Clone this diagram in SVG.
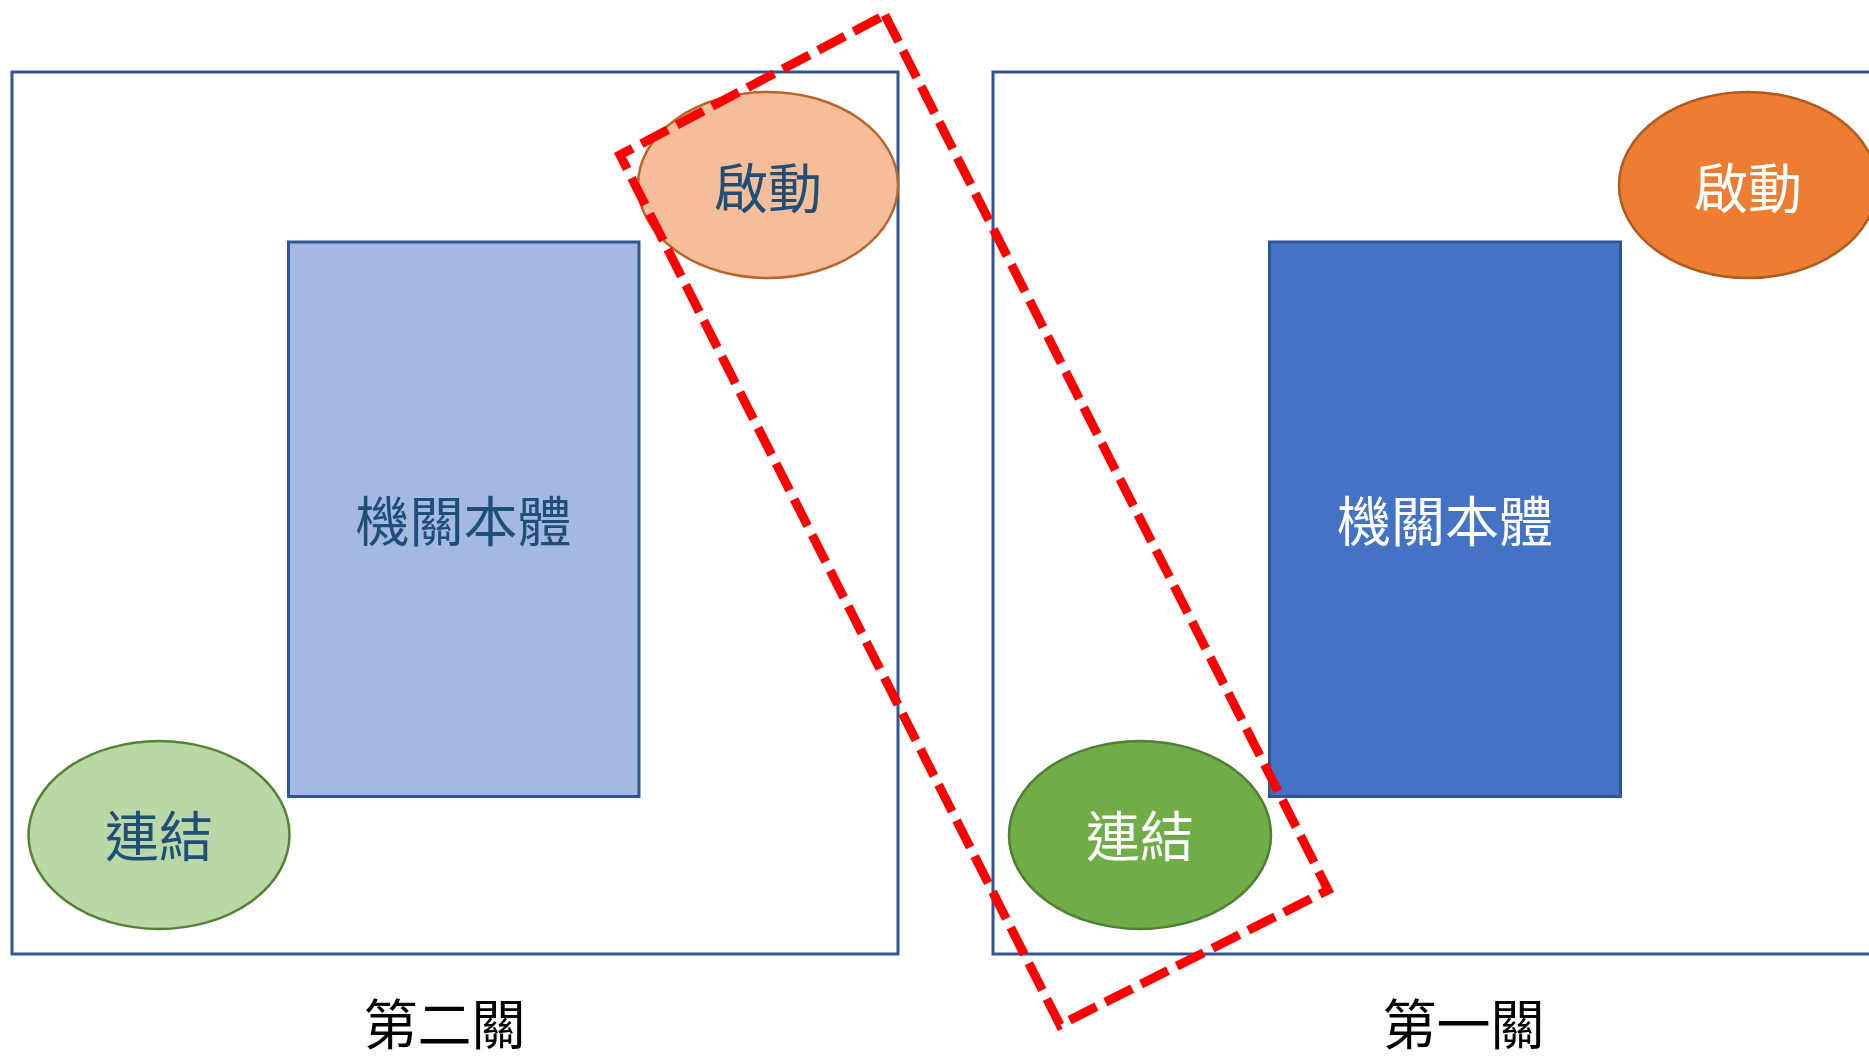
<svg xmlns="http://www.w3.org/2000/svg" width="1869" height="1056" viewBox="0 0 1869 1056">
<style>
.frame{fill:#FFFFFF;stroke:#2F5597;stroke-width:3}
.body{stroke:#2F5597;stroke-width:3}
.lbl{font-family:"Noto Sans CJK TC","Noto Sans CJK SC",sans-serif;font-size:54px;text-anchor:middle;dominant-baseline:central}
.dark{fill:#1F4E79}
.white{fill:#FFFFFF}
.title{fill:#000000}
.sel{fill:none;stroke:#FF0000;stroke-width:9;stroke-dasharray:30 10;stroke-linejoin:miter}
</style>
<rect width="1869" height="1056" fill="#FFFFFF"/>
<g id="panel-level2">
  <rect class="frame" x="12" y="72" width="886" height="882"/>
</g>
<g id="panel-level1">
  <rect class="frame" x="993" y="72" width="900" height="882"/>
</g>
<g id="body-level2">
  <rect class="body" x="288.5" y="242" width="350.5" height="554.5" fill="#A4B9E2"/>
  <text class="lbl dark" x="463.5" y="518">機關本體</text>
</g>
<g id="start-level2">
  <ellipse cx="768" cy="185" rx="130" ry="93" fill="#F6BE98" stroke="#B8652A" stroke-width="2.5"/>
  <text class="lbl dark" x="768" y="185">啟動</text>
</g>
<g id="link-level2">
  <ellipse cx="159" cy="835" rx="130.5" ry="94" fill="#BAD7A6" stroke="#548235" stroke-width="2.5"/>
  <text class="lbl dark" x="159" y="833">連結</text>
</g>
<g id="body-level1">
  <rect class="body" x="1269.5" y="242" width="351" height="554.5" fill="#4472C4"/>
  <text class="lbl white" x="1445" y="518">機關本體</text>
</g>
<g id="start-level1">
  <ellipse cx="1748" cy="185" rx="129" ry="93" fill="#ED7D31" stroke="#AE5A21" stroke-width="2.5"/>
  <text class="lbl white" x="1748" y="185">啟動</text>
</g>
<g id="link-level1">
  <ellipse cx="1140" cy="835" rx="131" ry="94" fill="#70AD47" stroke="#507E32" stroke-width="2.5"/>
  <text class="lbl white" x="1140" y="833">連結</text>
</g>
<g id="title-level2">
  <text class="lbl title" x="444.5" y="1021">第二關</text>
</g>
<g id="title-level1">
  <text class="lbl title" x="1463.5" y="1021">第一關</text>
</g>
<g id="connectors">
  <polygon id="highlight" class="sel" points="885,15 1328,890 1060,1025 620,155"/>
</g>
</svg>
